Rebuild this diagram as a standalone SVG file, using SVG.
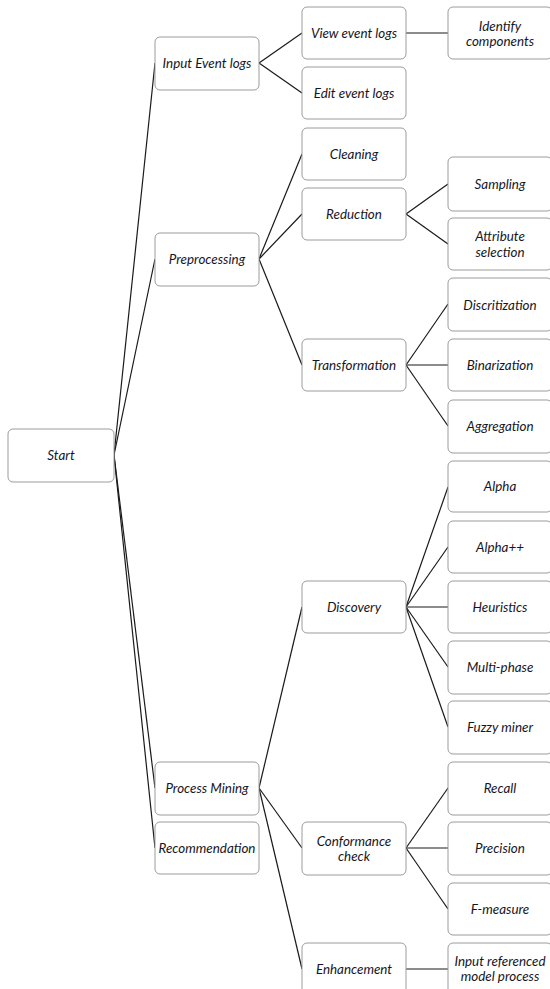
<svg xmlns="http://www.w3.org/2000/svg" width="550" height="989" viewBox="0 0 550 989">
  <style>
    .box { fill: #ffffff; stroke: #9c9c9c; stroke-width: 1; }
    .lbl { font-family: Lato, "Open Sans", "Liberation Sans", sans-serif; font-style: italic; font-size: 13.4px; fill: #16161f; text-anchor: middle; dominant-baseline: central; }
    .edge { stroke: #1a1a1a; stroke-width: 1.2; fill: none; }
  </style>
  <rect x="0" y="0" width="550" height="989" fill="#ffffff"/>

  <!-- connectors -->
  <g id="connectors">
    <!-- Start -->
    <line class="edge" x1="114" y1="455" x2="155" y2="63"/>
    <line class="edge" x1="114" y1="455" x2="155" y2="259"/>
    <line class="edge" x1="114" y1="455" x2="155" y2="788"/>
    <line class="edge" x1="114" y1="455" x2="155" y2="848"/>
    <!-- Input Event logs -->
    <line class="edge" x1="259" y1="63" x2="302" y2="33"/>
    <line class="edge" x1="259" y1="63" x2="302" y2="93"/>
    <line class="edge" x1="406" y1="33" x2="448" y2="33"/>
    <!-- Preprocessing -->
    <line class="edge" x1="259" y1="259" x2="302" y2="154"/>
    <line class="edge" x1="259" y1="259" x2="302" y2="214"/>
    <line class="edge" x1="259" y1="259" x2="302" y2="365"/>
    <line class="edge" x1="406" y1="214" x2="448" y2="184"/>
    <line class="edge" x1="406" y1="214" x2="448" y2="244"/>
    <line class="edge" x1="406" y1="365" x2="448" y2="304"/>
    <line class="edge" x1="406" y1="365" x2="448" y2="365"/>
    <line class="edge" x1="406" y1="365" x2="448" y2="426"/>
    <!-- Process Mining -->
    <line class="edge" x1="259" y1="788" x2="302" y2="607"/>
    <line class="edge" x1="259" y1="788" x2="302" y2="848"/>
    <line class="edge" x1="259" y1="788" x2="302" y2="969"/>
    <line class="edge" x1="406" y1="607" x2="448" y2="487"/>
    <line class="edge" x1="406" y1="607" x2="448" y2="547"/>
    <line class="edge" x1="406" y1="607" x2="448" y2="607"/>
    <line class="edge" x1="406" y1="607" x2="448" y2="667"/>
    <line class="edge" x1="406" y1="607" x2="448" y2="727"/>
    <line class="edge" x1="406" y1="848" x2="448" y2="788"/>
    <line class="edge" x1="406" y1="848" x2="448" y2="848"/>
    <line class="edge" x1="406" y1="848" x2="448" y2="909"/>
    <line class="edge" x1="406" y1="969" x2="448" y2="969"/>
  </g>

  <!-- root -->
  <g id="start"><rect class="box" x="8" y="429" width="106" height="53" rx="5"/><text class="lbl" x="61" y="455">Start</text></g>

  <!-- first level -->
  <g id="input-event-logs"><rect class="box" x="155" y="37" width="104" height="53" rx="5"/><text class="lbl" x="207" y="63">Input Event logs</text></g>
  <g id="preprocessing"><rect class="box" x="155" y="233" width="104" height="53" rx="5"/><text class="lbl" x="207" y="259">Preprocessing</text></g>
  <g id="process-mining"><rect class="box" x="155" y="762" width="104" height="53" rx="5"/><text class="lbl" x="207" y="788">Process Mining</text></g>
  <g id="recommendation"><rect class="box" x="155" y="822" width="104" height="52" rx="5"/><text class="lbl" x="207" y="848">Recommendation</text></g>

  <!-- second level -->
  <g id="view-event-logs"><rect class="box" x="302" y="7" width="104" height="52" rx="5"/><text class="lbl" x="354" y="33">View event logs</text></g>
  <g id="edit-event-logs"><rect class="box" x="302" y="67" width="104" height="52" rx="5"/><text class="lbl" x="354" y="93">Edit event logs</text></g>
  <g id="cleaning"><rect class="box" x="302" y="128" width="104" height="52" rx="5"/><text class="lbl" x="354" y="154">Cleaning</text></g>
  <g id="reduction"><rect class="box" x="302" y="188" width="104" height="52" rx="5"/><text class="lbl" x="354" y="214">Reduction</text></g>
  <g id="transformation"><rect class="box" x="302" y="339" width="104" height="52" rx="5"/><text class="lbl" x="354" y="365">Transformation</text></g>
  <g id="discovery"><rect class="box" x="302" y="581" width="104" height="52" rx="5"/><text class="lbl" x="354" y="607">Discovery</text></g>
  <g id="conformance-check"><rect class="box" x="302" y="822" width="104" height="53" rx="5"/><text class="lbl" x="354" y="840.5">Conformance</text><text class="lbl" x="354" y="856">check</text></g>
  <g id="enhancement"><rect class="box" x="302" y="943" width="104" height="53" rx="5"/><text class="lbl" x="354" y="969">Enhancement</text></g>

  <!-- third level -->
  <g id="identify-components"><rect class="box" x="448" y="7" width="104" height="52" rx="5"/><text class="lbl" x="500" y="25.5">Identify</text><text class="lbl" x="500" y="41">components</text></g>
  <g id="sampling"><rect class="box" x="448" y="157" width="104" height="54" rx="5"/><text class="lbl" x="500" y="184">Sampling</text></g>
  <g id="attribute-selection"><rect class="box" x="448" y="218" width="104" height="52" rx="5"/><text class="lbl" x="500" y="236">Attribute</text><text class="lbl" x="500" y="251.5">selection</text></g>
  <g id="discritization"><rect class="box" x="448" y="278" width="104" height="53" rx="5"/><text class="lbl" x="500" y="305">Discritization</text></g>
  <g id="binarization"><rect class="box" x="448" y="339" width="104" height="52" rx="5"/><text class="lbl" x="500" y="365">Binarization</text></g>
  <g id="aggregation"><rect class="box" x="448" y="400" width="104" height="53" rx="5"/><text class="lbl" x="500" y="426">Aggregation</text></g>
  <g id="alpha"><rect class="box" x="448" y="461" width="104" height="51" rx="5"/><text class="lbl" x="500" y="486">Alpha</text></g>
  <g id="alpha-pp"><rect class="box" x="448" y="521" width="104" height="52" rx="5"/><text class="lbl" x="500" y="547">Alpha++</text></g>
  <g id="heuristics"><rect class="box" x="448" y="581" width="104" height="52" rx="5"/><text class="lbl" x="500" y="607">Heuristics</text></g>
  <g id="multi-phase"><rect class="box" x="448" y="641" width="104" height="53" rx="5"/><text class="lbl" x="500" y="667">Multi-phase</text></g>
  <g id="fuzzy-miner"><rect class="box" x="448" y="701" width="104" height="53" rx="5"/><text class="lbl" x="500" y="727">Fuzzy miner</text></g>
  <g id="recall"><rect class="box" x="448" y="762" width="104" height="53" rx="5"/><text class="lbl" x="500" y="788">Recall</text></g>
  <g id="precision"><rect class="box" x="448" y="822" width="104" height="53" rx="5"/><text class="lbl" x="500" y="848">Precision</text></g>
  <g id="f-measure"><rect class="box" x="448" y="883" width="104" height="52" rx="5"/><text class="lbl" x="500" y="909">F-measure</text></g>
  <g id="input-referenced-model-process"><rect class="box" x="448" y="943" width="104" height="53" rx="5"/><text class="lbl" x="500" y="960.5">Input referenced</text><text class="lbl" x="500" y="976">model process</text></g>
</svg>
